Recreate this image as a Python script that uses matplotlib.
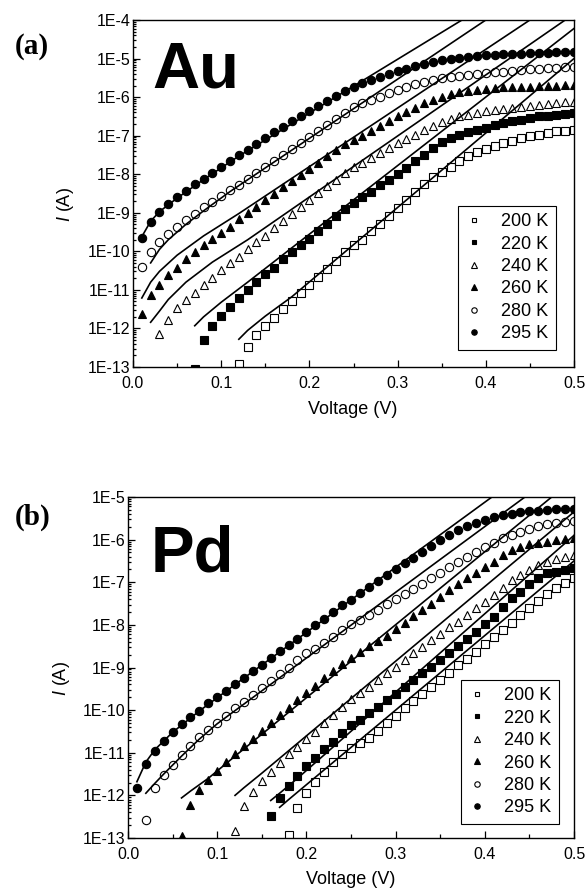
import matplotlib
matplotlib.use('Agg')
import matplotlib.pyplot as plt
from matplotlib.ticker import FuncFormatter, LogLocator, MultipleLocator, NullFormatter
import numpy as np

plt.rcParams['font.family'] = ['Liberation Sans', 'DejaVu Sans']
plt.rcParams['mathtext.fontset'] = 'custom'
plt.rcParams['mathtext.rm'] = 'Liberation Sans'
plt.rcParams['mathtext.it'] = 'Liberation Sans:italic'

# bias sweep, 10 mV steps; each series covers the tail of it
SWEEP = np.round(np.arange(1, 51) * 0.01, 2)

TEMPS = ['200 K', '220 K', '240 K', '260 K', '280 K', '295 K']

# log10 of current (A), Au contact
AU_200 = [-12.92, -12.49, -12.17, -11.93, -11.72, -11.50, -11.28, -11.09, -10.88, -10.66,
          -10.45, -10.25, -10.03, -9.84, -9.70, -9.48, -9.29, -9.09, -8.88, -8.66,
          -8.45, -8.26, -8.08, -7.93, -7.80, -7.67, -7.54, -7.43, -7.34, -7.28,
          -7.20, -7.13, -7.07, -7.02, -6.98, -6.94, -6.89, -6.88, -6.85]
AU_220 = [-13.05, -12.29, -11.93, -11.67, -11.44, -11.20, -11.00, -10.79, -10.59, -10.42,
          -10.21, -10.01, -9.84, -9.67, -9.47, -9.30, -9.09, -8.91, -8.75, -8.60,
          -8.45, -8.29, -8.15, -8.00, -7.84, -7.67, -7.50, -7.32, -7.17, -7.07,
          -6.98, -6.91, -6.85, -6.79, -6.72, -6.68, -6.63, -6.59, -6.55, -6.50,
          -6.48, -6.46, -6.44, -6.42]
AU_240 = [-12.15, -11.78, -11.48, -11.26, -11.07, -10.87, -10.68, -10.48, -10.31, -10.14,
          -9.95, -9.76, -9.59, -9.39, -9.22, -9.03, -8.85, -8.66, -8.48, -8.31,
          -8.14, -7.97, -7.81, -7.71, -7.58, -7.45, -7.32, -7.20, -7.08, -6.98,
          -6.85, -6.76, -6.65, -6.56, -6.50, -6.46, -6.42, -6.37, -6.33, -6.31,
          -6.27, -6.25, -6.22, -6.20, -6.18, -6.16, -6.13, -6.12]
AU_260 = [-11.62, -11.12, -10.87, -10.62, -10.42, -10.21, -10.02, -9.84, -9.68, -9.52,
          -9.36, -9.17, -9.00, -8.84, -8.67, -8.50, -8.33, -8.18, -8.01, -7.86,
          -7.70, -7.54, -7.37, -7.22, -7.10, -7.00, -6.89, -6.76, -6.63, -6.50,
          -6.39, -6.29, -6.16, -6.07, -5.99, -5.93, -5.87, -5.84, -5.81, -5.79,
          -5.77, -5.75, -5.75, -5.73, -5.73, -5.71, -5.70, -5.70, -5.68, -5.68]
AU_280 = [-10.41, -10.02, -9.76, -9.55, -9.36, -9.19, -9.02, -8.86, -8.71, -8.56,
          -8.42, -8.28, -8.13, -7.98, -7.82, -7.67, -7.51, -7.35, -7.20, -7.04,
          -6.89, -6.73, -6.57, -6.42, -6.26, -6.16, -6.07, -5.99, -5.90, -5.81,
          -5.73, -5.67, -5.60, -5.55, -5.51, -5.47, -5.45, -5.42, -5.41, -5.38,
          -5.36, -5.34, -5.32, -5.30, -5.28, -5.27, -5.25, -5.25, -5.23, -5.23]
AU_295 = [-9.65, -9.24, -8.98, -8.78, -8.60, -8.43, -8.26, -8.12, -7.97, -7.81,
          -7.66, -7.51, -7.36, -7.21, -7.06, -6.91, -6.78, -6.63, -6.50, -6.37,
          -6.24, -6.11, -5.98, -5.85, -5.73, -5.63, -5.55, -5.47, -5.41, -5.33,
          -5.26, -5.20, -5.13, -5.08, -5.04, -5.00, -4.98, -4.95, -4.93, -4.92,
          -4.91, -4.89, -4.88, -4.87, -4.86, -4.85, -4.85, -4.84, -4.83, -4.82]

# log10 of current (A), Pd contact
PD_200 = [-12.92, -12.30, -11.95, -11.68, -11.44, -11.21, -11.03, -10.88, -10.78, -10.65,
          -10.49, -10.31, -10.14, -9.96, -9.78, -9.61, -9.45, -9.30, -9.12, -8.94,
          -8.79, -8.63, -8.45, -8.28, -8.12, -7.96, -7.78, -7.60, -7.43, -7.28,
          -7.14, -7.01, -6.89]
PD_220 = [-12.48, -12.06, -11.78, -11.54, -11.32, -11.13, -10.92, -10.74, -10.53, -10.35,
          -10.22, -10.06, -9.92, -9.77, -9.61, -9.45, -9.30, -9.14, -8.98, -8.83,
          -8.67, -8.50, -8.34, -8.16, -7.98, -7.81, -7.57, -7.38, -7.22, -7.04,
          -6.89, -6.79, -6.75, -6.71, -6.67]
PD_240 = [-12.84, -12.24, -11.92, -11.67, -11.44, -11.23, -11.03, -10.86, -10.68, -10.51,
          -10.30, -10.12, -9.92, -9.75, -9.59, -9.45, -9.30, -9.14, -8.98, -8.83,
          -8.67, -8.51, -8.36, -8.22, -8.06, -7.93, -7.77, -7.61, -7.46, -7.30,
          -7.14, -6.95, -6.83, -6.71, -6.60, -6.52, -6.46, -6.40, -6.36]
PD_260 = [-12.95, -12.22, -11.87, -11.64, -11.42, -11.22, -11.04, -10.85, -10.67, -10.49,
          -10.30, -10.12, -9.95, -9.77, -9.60, -9.43, -9.25, -9.08, -8.92, -8.78,
          -8.64, -8.50, -8.38, -8.25, -8.10, -7.95, -7.80, -7.65, -7.50, -7.34,
          -7.18, -7.04, -6.91, -6.79, -6.65, -6.52, -6.36, -6.24, -6.17, -6.10,
          -6.07, -6.05, -6.01, -5.99, -5.97]
PD_280 = [-12.57, -11.83, -11.52, -11.29, -11.05, -10.83, -10.64, -10.47, -10.31, -10.14,
          -9.96, -9.80, -9.65, -9.49, -9.31, -9.16, -9.00, -8.83, -8.67, -8.56,
          -8.42, -8.28, -8.13, -7.99, -7.89, -7.77, -7.65, -7.52, -7.39, -7.28,
          -7.15, -7.03, -6.91, -6.79, -6.65, -6.52, -6.40, -6.28, -6.17, -6.07,
          -5.97, -5.89, -5.81, -5.74, -5.68, -5.64, -5.60, -5.58, -5.56]
PD_295 = [-11.83, -11.26, -10.95, -10.72, -10.52, -10.33, -10.17, -10.01, -9.84, -9.69,
          -9.55, -9.39, -9.24, -9.08, -8.93, -8.78, -8.61, -8.48, -8.32, -8.17,
          -8.01, -7.86, -7.70, -7.54, -7.41, -7.26, -7.12, -6.98, -6.84, -6.70,
          -6.56, -6.42, -6.28, -6.14, -6.01, -5.89, -5.78, -5.68, -5.60, -5.53,
          -5.47, -5.43, -5.39, -5.36, -5.34, -5.32, -5.31, -5.29, -5.28, -5.28]

# fitted curves: (V, log10 I) nodes
FIT_AU_200 = [(0.12, -12.28), (0.13, -12.05), (0.15, -11.68), (0.18, -11.18), (0.50, -5.00)]
FIT_AU_220 = [(0.07, -11.93), (0.08, -11.70), (0.10, -11.32), (0.13, -10.80), (0.50, -4.22)]
FIT_AU_240 = [(0.02, -11.84), (0.03, -11.55), (0.04, -11.25), (0.06, -10.80), (0.09, -10.28),
              (0.13, -9.70), (0.49, -4.00)]
FIT_AU_260 = [(0.01, -11.21), (0.02, -10.80), (0.03, -10.52), (0.05, -10.10), (0.08, -9.60),
              (0.12, -9.02), (0.45, -4.00)]
FIT_AU_280 = [(0.02, -10.30), (0.03, -9.95), (0.04, -9.70), (0.06, -9.30), (0.08, -8.95),
              (0.11, -8.45), (0.40, -4.00)]
FIT_AU_295 = [(0.01, -9.62), (0.02, -9.22), (0.03, -8.97), (0.05, -8.62), (0.08, -8.14),
              (0.12, -7.53), (0.373, -4.00)]

FIT_PD_200 = [(0.17, -12.28), (0.18, -12.10), (0.20, -11.75), (0.50, -6.50)]
FIT_PD_220 = [(0.16, -12.12), (0.17, -11.95), (0.19, -11.60), (0.50, -5.90)]
FIT_PD_240 = [(0.12, -12.00), (0.13, -11.82), (0.15, -11.48), (0.50, -5.35)]
FIT_PD_260 = [(0.06, -12.06), (0.07, -11.90), (0.09, -11.60), (0.12, -11.08), (0.475, -5.00)]
FIT_PD_280 = [(0.02, -11.95), (0.03, -11.72), (0.04, -11.50), (0.06, -11.08), (0.08, -10.68),
              (0.10, -10.32), (0.445, -5.00)]
FIT_PD_295 = [(0.01, -11.68), (0.02, -11.22), (0.03, -10.93), (0.05, -10.52), (0.08, -10.02),
              (0.12, -9.40), (0.408, -5.00)]

AU_DATA = [AU_200, AU_220, AU_240, AU_260, AU_280, AU_295]
AU_FITS = [FIT_AU_200, FIT_AU_220, FIT_AU_240, FIT_AU_260, FIT_AU_280, FIT_AU_295]
PD_DATA = [PD_200, PD_220, PD_240, PD_260, PD_280, PD_295]
PD_FITS = [FIT_PD_200, FIT_PD_220, FIT_PD_240, FIT_PD_260, FIT_PD_280, FIT_PD_295]

STYLES = [
    dict(marker='s', ms=5.4, mfc='none'),
    dict(marker='s', ms=5.4, mfc='black'),
    dict(marker='^', ms=6.4, mfc='none'),
    dict(marker='^', ms=6.4, mfc='black'),
    dict(marker='o', ms=6.0, mfc='none'),
    dict(marker='o', ms=6.0, mfc='black'),
]

W, H = 587, 890


def fig_xy(x, y):
    return x / W, 1 - y / H


def decade_label(v, pos):
    return '1E%d' % int(round(np.log10(v)))


def draw_panel(ax, data, fits, y_top, legend_anchor):

    for fit in fits:
        v = [p[0] for p in fit]
        i = [10.0 ** p[1] for p in fit]
        ax.plot(v, i, color='black', lw=1.2, zorder=2)

    for series, style, label in zip(data, STYLES, TEMPS):
        v = SWEEP[-len(series):]
        ax.plot(v, 10.0 ** np.array(series), ls='none', mec='black', mew=0.8,
                label=label, zorder=3, **style)

    ax.set_yscale('log')
    ax.set_xlim(0.0, 0.5)
    ax.set_ylim(1e-13, y_top)

    ax.xaxis.set_major_locator(MultipleLocator(0.1))
    ax.xaxis.set_minor_locator(MultipleLocator(0.05))
    ax.xaxis.set_major_formatter(FuncFormatter(lambda v, p: '%.1f' % v))
    ax.yaxis.set_major_locator(LogLocator(base=10, numticks=20))
    ax.yaxis.set_minor_locator(LogLocator(base=10, subs=np.arange(2, 10), numticks=20))
    ax.yaxis.set_major_formatter(FuncFormatter(decade_label))
    ax.yaxis.set_minor_formatter(NullFormatter())

    ax.tick_params(which='both', direction='in', top=False, right=False,
                   labelsize=11.5, width=0.9)
    ax.tick_params(axis='x', which='major', length=5, pad=6.5)
    ax.tick_params(axis='x', which='minor', length=3)
    ax.tick_params(axis='y', which='major', length=5, pad=2)
    ax.tick_params(axis='y', which='minor', length=2.5)
    for spine in ax.spines.values():
        spine.set_linewidth(1.0)

    leg = ax.legend(loc='upper left', bbox_to_anchor=legend_anchor, fontsize=13,
                    frameon=True, fancybox=False, edgecolor='black', framealpha=1,
                    borderaxespad=0, borderpad=0.4, labelspacing=0.3,
                    handlelength=1.0, handletextpad=1.0, markerscale=0.65)
    leg.get_frame().set_linewidth(0.8)


fig = plt.figure(figsize=(W / 100, H / 100), dpi=100)

ax_au = fig.add_axes([133 / W, 1 - 367 / H, 441 / W, 347 / H])
ax_pd = fig.add_axes([128 / W, 1 - 838 / H, 446 / W, 341 / H])

draw_panel(ax_au, AU_DATA, AU_FITS, 1e-4, (0.737, 0.464))
draw_panel(ax_pd, PD_DATA, PD_FITS, 1e-5, (0.747, 0.463))

serif_bold = dict(family=['Liberation Serif', 'DejaVu Serif'], weight='bold', size=21)
fig.text(*fig_xy(32, 47), '(a)', ha='center', va='center', **serif_bold)
fig.text(*fig_xy(33, 517), '(b)', ha='center', va='center', **serif_bold)

fig.text(*fig_xy(152, 88), 'Au', ha='left', va='baseline', size=47, weight='bold')
fig.text(*fig_xy(151, 572), 'Pd', ha='left', va='baseline', size=47, weight='bold')

fig.text(*fig_xy(65, 205), r'$I$ (A)', rotation=90, ha='center', va='center', size=13)
fig.text(*fig_xy(62, 679), r'$I$ (A)', rotation=90, ha='center', va='center', size=13)

fig.text(*fig_xy(353, 409), 'Voltage (V)', ha='center', va='center', size=13)
fig.text(*fig_xy(351, 879), 'Voltage (V)', ha='center', va='center', size=13)

fig.savefig('out.png', dpi=100)
